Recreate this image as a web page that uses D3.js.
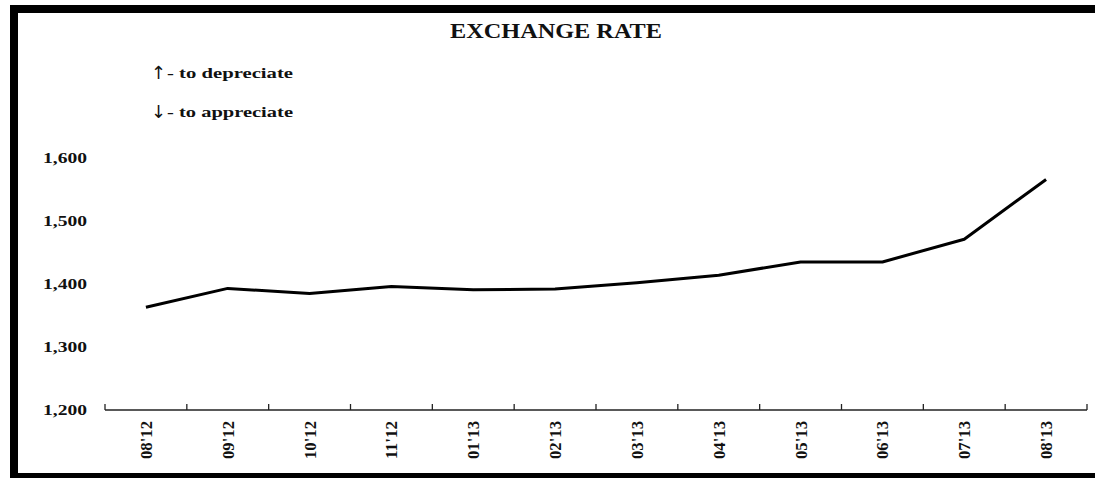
<!DOCTYPE html>
<html>
<head>
<meta charset="utf-8">
<script src="https://cdn.jsdelivr.net/npm/d3@7"></script>
<style>
  body { margin: 0; background: #fff; }
  svg { display: block; }
  text { font-family: "Liberation Serif", "Times New Roman", serif; font-weight: bold; fill: #111; }
</style>
</head>
<body>
<div id="chart"></div>
<script>
const months = ["08'12", "09'12", "10'12", "11'12", "01'13", "02'13", "03'13", "04'13", "05'13", "06'13", "07'13", "08'13"];
const rates = [1363, 1393, 1385, 1396, 1391, 1392, 1402, 1414, 1435, 1435, 1471, 1566];
const yTicks = [1200, 1300, 1400, 1500, 1600];
const notes = [{ arrow: '↑', text: '- to depreciate' }, { arrow: '↓', text: '- to appreciate' }];

const W = 1095, H = 478;

const svg = d3.select('#chart').append('svg')
  .attr('width', W)
  .attr('height', H);

// frame: thick top / left / bottom edges
svg.append('rect').attr('x', 10).attr('y', 5).attr('width', W - 10).attr('height', 8).attr('fill', '#000');
svg.append('rect').attr('x', 10).attr('y', 5).attr('width', 8).attr('height', H - 5).attr('fill', '#000');
svg.append('rect').attr('x', 10).attr('y', 473).attr('width', W - 10).attr('height', 5).attr('fill', '#000');

const x = d3.scaleBand()
  .domain(months)
  .range([105, 1087]);

const y = d3.scaleLinear()
  .domain([1200, 1600])
  .range([410, 158]);

// x axis
const xAxis = svg.append('g')
  .attr('transform', `translate(0,${y(1200)})`);
xAxis.append('line')
  .attr('x1', x.range()[0]).attr('x2', x.range()[1])
  .attr('stroke', '#222').attr('stroke-width', 1.3);
const edges = months.map(m => x(m)).concat([x.range()[1]]);
xAxis.selectAll('.tk')
  .data(edges)
  .join('line')
  .attr('class', 'tk')
  .attr('x1', d => d).attr('x2', d => d)
  .attr('y1', -6).attr('y2', 0)
  .attr('stroke', '#222').attr('stroke-width', 1.3);
xAxis.selectAll('.lbl')
  .data(months)
  .join('text')
  .attr('class', 'lbl')
  .attr('transform', d => `translate(${x(d) + x.bandwidth() / 2 + 6},11) rotate(-90)`)
  .attr('text-anchor', 'end')
  .attr('font-size', 17)
  .attr('textLength', 38)
  .attr('lengthAdjust', 'spacingAndGlyphs')
  .text(d => d);

// y labels (no axis line in the original)
svg.selectAll('.ylbl')
  .data(yTicks)
  .join('text')
  .attr('class', 'ylbl')
  .attr('x', 87)
  .attr('y', d => y(d) + 5)
  .attr('text-anchor', 'end')
  .attr('font-size', 15)
  .attr('textLength', 44)
  .attr('lengthAdjust', 'spacingAndGlyphs')
  .text(d3.format(','));

// series line
const line = d3.line()
  .x(d => x(d.m) + x.bandwidth() / 2)
  .y(d => y(d.v));
svg.append('path')
  .datum(months.map((m, i) => ({ m, v: rates[i] })))
  .attr('d', line)
  .attr('fill', 'none')
  .attr('stroke', '#000')
  .attr('stroke-width', 3)
  .attr('stroke-linejoin', 'round');

// title
svg.append('text')
  .attr('x', 450).attr('y', 38)
  .attr('font-size', 20)
  .attr('textLength', 212)
  .attr('lengthAdjust', 'spacingAndGlyphs')
  .text('EXCHANGE RATE');

// direction notes
const note = svg.selectAll('.note')
  .data(notes)
  .join('g')
  .attr('class', 'note')
  .attr('transform', (d, i) => `translate(151,${78 + i * 39})`);
note.append('text')
  .style('font-family', '"DejaVu Sans", sans-serif')
  .style('font-weight', 'normal')
  .attr('font-size', 18)
  .attr('y', 1)
  .text(d => d.arrow);
note.append('text')
  .attr('x', 16)
  .attr('font-size', 15)
  .attr('textLength', 126)
  .attr('lengthAdjust', 'spacingAndGlyphs')
  .text(d => d.text);
</script>
</body>
</html>
